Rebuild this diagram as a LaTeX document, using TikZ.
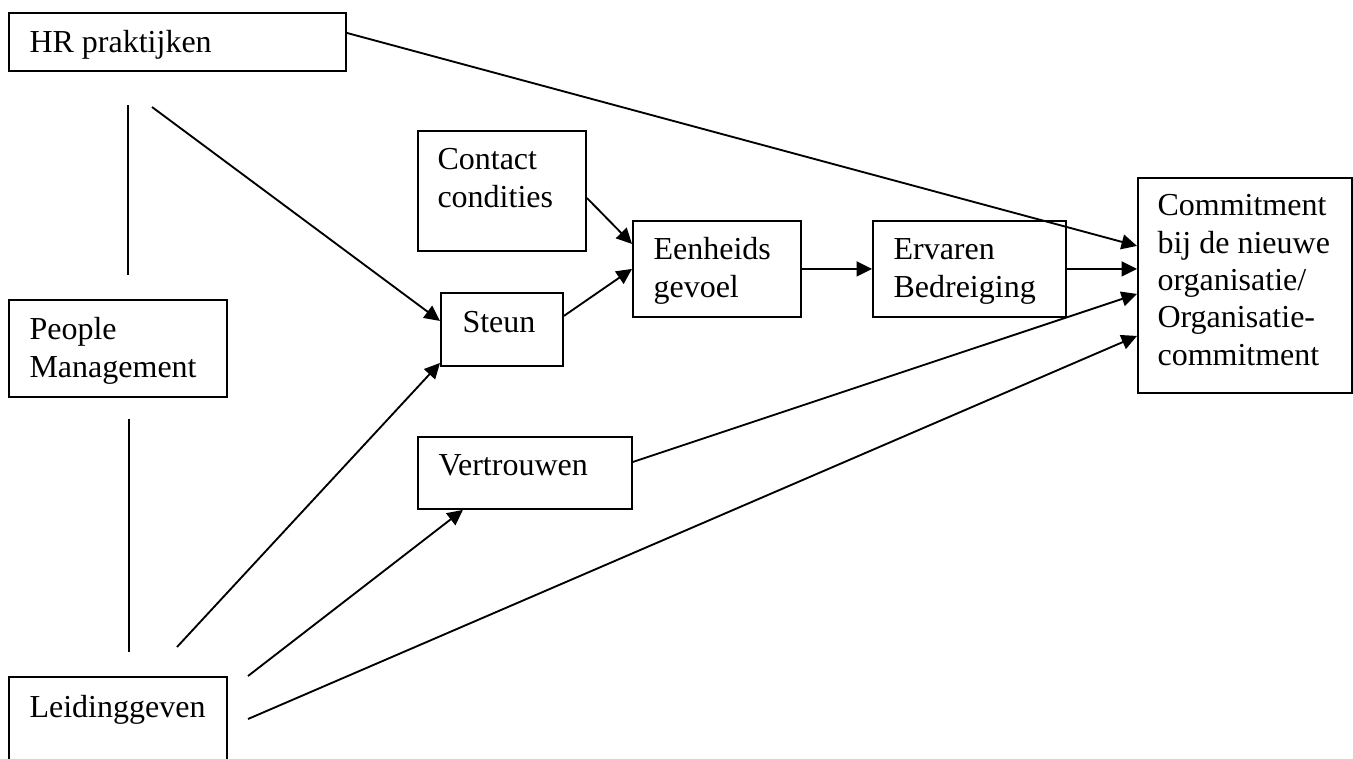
\documentclass[tikz,border=0pt]{standalone}
\usepackage{fontspec}
\setmainfont{Liberation Serif}
\usetikzlibrary{arrows.meta,calc}
\begin{document}
\begin{tikzpicture}[x=0.375pt,y=-0.375pt,
  box/.style={draw,line width=0.7pt,inner sep=0pt,anchor=north west},
  lbl/.style={anchor=base west,inner sep=0pt,align=left,font=\fontsize{12}{14}\selectfont},
  conn/.style={line width=0.7pt},
  arr/.style={line width=0.7pt,-{Triangle[length=5.8pt,width=5.6pt]}}]
\useasboundingbox (0,0) rectangle (1353,758);
\clip (0,0) rectangle (1353,758);
% boxes
\node[box,minimum width=126.375pt,minimum height=21.75pt] (hr) at (8,12) {};
\node[box,minimum width=81.75pt,minimum height=36.375pt] (people) at (8,299) {};
\node[box,minimum width=81.75pt,minimum height=46.5pt] (leid) at (8,676) {};
\node[box,minimum width=63pt,minimum height=45pt] (contact) at (417,130) {};
\node[box,minimum width=63pt,minimum height=36pt] (een) at (632,220) {};
\node[box,minimum width=45.75pt,minimum height=27.375pt] (steun) at (440,292) {};
\node[box,minimum width=72.375pt,minimum height=36pt] (erv) at (872,220) {};
\node[box,minimum width=80.25pt,minimum height=80.625pt] (com) at (1137,177) {};
\node[box,minimum width=80.25pt,minimum height=27pt] (vert) at (417,436) {};
% texts (anchor at baseline of last line)
\node[lbl] (hrt) at (29,52) {HR praktijken};
\node[lbl] (peoplet) at (29,377) {People\\Management};
\node[lbl] (leidt) at (29,717) {Leidinggeven};
\node[lbl] (contactt) at (437,207) {Contact\\condities};
\node[lbl] (eent) at (653,297) {Eenheids\\gevoel};
\node[lbl] (steunt) at (462,332) {Steun};
\node[lbl] (ervt) at (893,297) {Ervaren\\Bedreiging};
\node[lbl] (comt) at (1157,365) {Commitment\\bij de nieuwe\\organisatie/\\Organisatie-\\commitment};
\node[lbl] (vertt) at (438,475) {Vertrouwen};
% free ends
\coordinate (v1) at (128,105);
\coordinate (v2) at (128,275);
\coordinate (v3) at (129,419);
\coordinate (v4) at (129,652);
\coordinate (h1) at (152,107);
\coordinate (l1) at (177,647);
\coordinate (l2) at (248,676);
\coordinate (l3) at (248,719);
% connectors
\draw[conn] (v1) -- (v2);
\draw[conn] (v3) -- (v4);
\draw[arr] ($(hr.east)+(0,-9)$) -- ($(com.west)+(0,-39.5)$);
\draw[arr] (h1) -- ($(steun.west)+(0,-8.5)$);
\draw[arr] ($(contact.east)+(0,7)$) -- ($(een.west)+(0,-25)$);
\draw[arr] ($(steun.east)+(0,-13.5)$) -- (een.west);
\draw[arr] (een.east) -- (erv.west);
\draw[arr] (erv.east) -- (erv.east -| com.west);
\draw[arr] ($(vert.east)+(0,-11)$) -- ($(com.west)+(0,8.5)$);
\draw[arr] (l1) -- ($(steun.west)+(0,33.5)$);
\draw[arr] (l2) -- ($(vert.south)+(-62,0)$);
\draw[arr] (l3) -- ($(com.west)+(0,50.5)$);
\end{tikzpicture}
\end{document}
